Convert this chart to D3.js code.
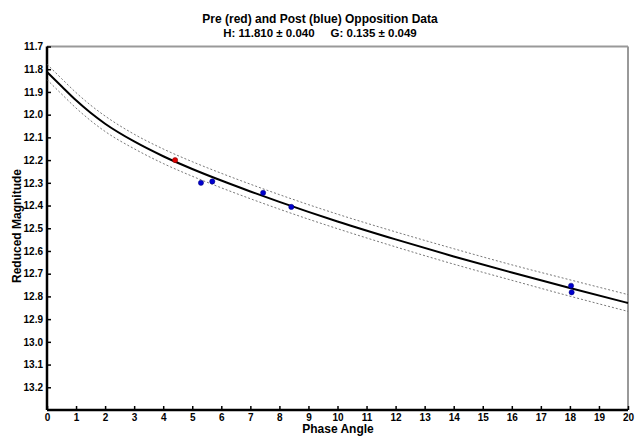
<!DOCTYPE html>
<html>
<head>
<meta charset="utf-8">
<script src="https://cdn.jsdelivr.net/npm/d3@7"></script>
<style>
  body { margin: 0; background: #fff; }
  svg { font-family: "Liberation Sans", Arial, sans-serif; }
  .axis text { font-size: 10px; font-weight: bold; fill: #000; }
  .axis path { display: none; }
  .axis line { stroke: #000; stroke-width: 1.5; }
</style>
</head>
<body>
<svg width="641" height="447"></svg>
<script>
// phase angles where the fitted curve and its bounds were read
var angles = [0, 0.5, 1, 1.5, 2, 3, 4, 5, 6, 7, 8, 9, 10, 12, 14, 16, 18, 20];
var fitMag = [11.812, 11.875, 11.937, 11.992, 12.040, 12.118, 12.183, 12.239, 12.290,
              12.338, 12.384, 12.428, 12.470, 12.549, 12.624, 12.695, 12.763, 12.829];
var upperMag = [11.778, 11.841, 11.903, 11.958, 12.006, 12.086, 12.151, 12.207, 12.258,
                12.306, 12.352, 12.396, 12.438, 12.516, 12.590, 12.661, 12.727, 12.792];
var lowerMag = [11.846, 11.909, 11.971, 12.026, 12.074, 12.150, 12.215, 12.271, 12.322,
                12.370, 12.416, 12.460, 12.502, 12.582, 12.658, 12.729, 12.799, 12.866];

// observations
var preAngle = [4.41];
var preMag = [12.200];
var postAngle = [5.30, 5.69, 7.44, 8.41, 18.04, 18.06];
var postMag = [12.300, 12.294, 12.344, 12.406, 12.753, 12.782];

var xTicks = d3.range(0, 21, 1);
var yTicks = [11.7, 11.8, 11.9, 12.0, 12.1, 12.2, 12.3, 12.4, 12.5, 12.6, 12.7, 12.8, 12.9, 13.0, 13.1, 13.2];

var svg = d3.select('svg'),
  margin = {top: 46.5, right: 13, bottom: 37, left: 47},
  width = +svg.attr('width') - margin.left - margin.right,
  height = +svg.attr('height') - margin.top - margin.bottom;

var x = d3.scaleLinear().domain([0, 20]).range([0, width]),
    y = d3.scaleLinear().domain([11.7, 13.3]).range([0, height]);

var g = svg.append('g')
    .attr('transform', 'translate(' + margin.left + ',' + margin.top + ')');

// titles
svg.append('text')
  .attr('x', 320).attr('y', 23)
  .attr('text-anchor', 'middle')
  .style('font-size', '12px').style('font-weight', 'bold')
  .text('Pre (red) and Post (blue) Opposition Data');
svg.append('text')
  .attr('x', 320).attr('y', 37)
  .attr('text-anchor', 'middle')
  .style('font-size', '11.5px').style('font-weight', 'bold')
  .style('white-space', 'pre')
  .text('H: 11.810 \u00b1 0.040     G: 0.135 \u00b1 0.049');

// frame: grey top/right
g.append('line')
  .attr('x1', 0).attr('x2', width).attr('y1', 0).attr('y2', 0)
  .attr('stroke', '#999').attr('stroke-width', 2);
g.append('line')
  .attr('x1', width).attr('x2', width).attr('y1', 0).attr('y2', height)
  .attr('stroke', '#999').attr('stroke-width', 2);

// axes
g.append('g')
  .attr('class', 'axis axis--x')
  .attr('transform', 'translate(0,' + height + ')')
  .call(d3.axisBottom(x).tickValues(xTicks).tickFormat(d3.format('d'))
    .tickSizeInner(-4).tickSizeOuter(0).tickPadding(4));

g.append('g')
  .attr('class', 'axis axis--y')
  .call(d3.axisLeft(y).tickValues(yTicks).tickFormat(d3.format('.1f'))
    .tickSizeInner(-4).tickSizeOuter(0).tickPadding(4));

g.append('line')
  .attr('x1', 0).attr('x2', width).attr('y1', height).attr('y2', height)
  .attr('stroke', '#000').attr('stroke-width', 2.5);
g.append('line')
  .attr('x1', 0).attr('x2', 0).attr('y1', 0).attr('y2', height)
  .attr('stroke', '#000').attr('stroke-width', 2.5);

// axis titles
svg.append('text')
  .attr('x', 338).attr('y', 433)
  .attr('text-anchor', 'middle')
  .style('font-size', '12px').style('font-weight', 'bold')
  .text('Phase Angle');
svg.append('text')
  .attr('transform', 'translate(21,226) rotate(-90)')
  .attr('text-anchor', 'middle')
  .style('font-size', '12px').style('font-weight', 'bold')
  .text('Reduced Magnitude');

// curves
var line = d3.line()
  .x(function(d) { return x(d[0]); })
  .y(function(d) { return y(d[1]); })
  .curve(d3.curveMonotoneX);

function zipPts(a, b) { return a.map(function(v, i) { return [v, b[i]]; }); }

g.append('path')
  .datum(zipPts(angles, upperMag))
  .attr('fill', 'none').attr('stroke', '#555').attr('stroke-width', 0.8)
  .attr('stroke-dasharray', '2,2')
  .attr('d', line);
g.append('path')
  .datum(zipPts(angles, lowerMag))
  .attr('fill', 'none').attr('stroke', '#555').attr('stroke-width', 0.8)
  .attr('stroke-dasharray', '2,2')
  .attr('d', line);
g.append('path')
  .datum(zipPts(angles, fitMag))
  .attr('fill', 'none').attr('stroke', '#000').attr('stroke-width', 2)
  .attr('d', line);

// observations
g.selectAll('.pre')
  .data(zipPts(preAngle, preMag))
  .enter().append('circle')
  .attr('class', 'pre')
  .attr('cx', function(d) { return x(d[0]); })
  .attr('cy', function(d) { return y(d[1]); })
  .attr('r', 2.6)
  .attr('fill', '#e00000').attr('stroke', '#700').attr('stroke-width', 0.5);

g.selectAll('.post')
  .data(zipPts(postAngle, postMag))
  .enter().append('circle')
  .attr('class', 'post')
  .attr('cx', function(d) { return x(d[0]); })
  .attr('cy', function(d) { return y(d[1]); })
  .attr('r', 2.6)
  .attr('fill', '#0000d0').attr('stroke', '#000070').attr('stroke-width', 0.5);
</script>
</body>
</html>
